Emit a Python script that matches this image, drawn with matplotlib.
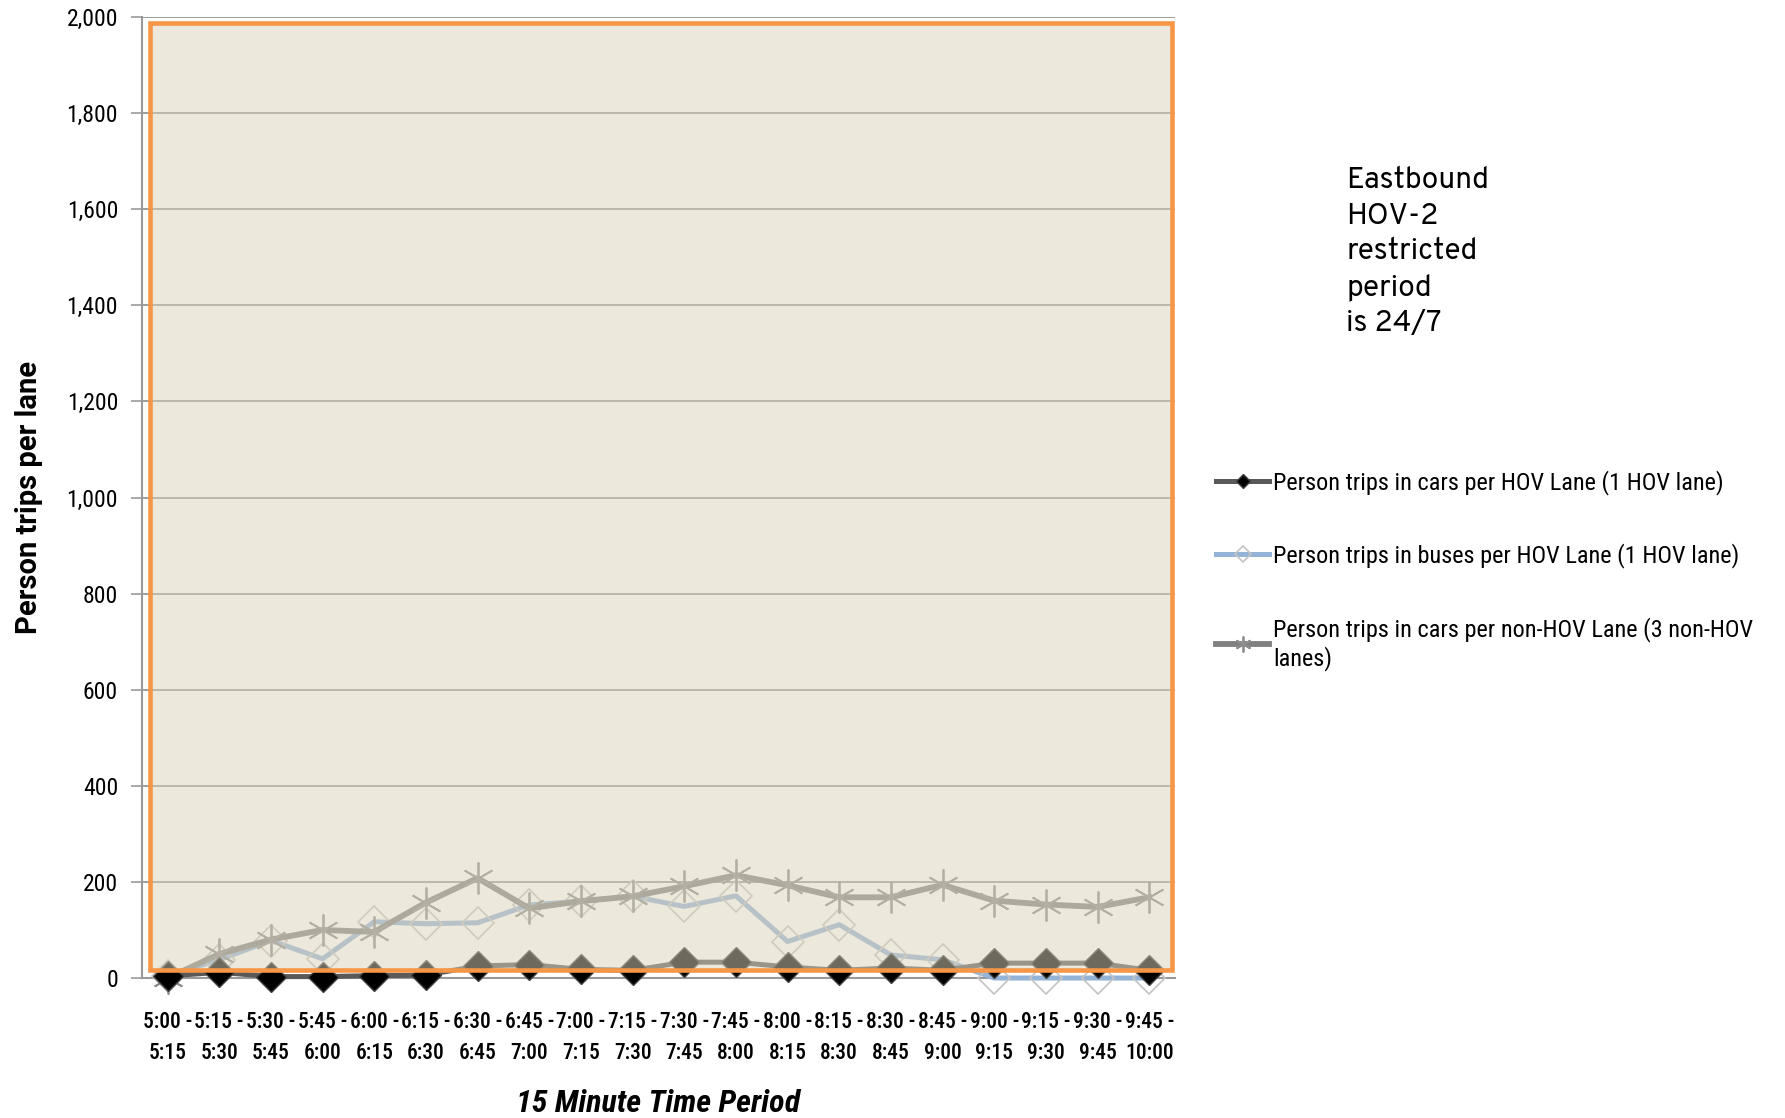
import matplotlib
matplotlib.use("Agg")
import matplotlib.pyplot as plt
from matplotlib import font_manager
from matplotlib.patches import Rectangle
import numpy as np

# 15 minute periods
starts = ["5:00", "5:15", "5:30", "5:45", "6:00", "6:15", "6:30", "6:45", "7:00", "7:15",
          "7:30", "7:45", "8:00", "8:15", "8:30", "8:45", "9:00", "9:15", "9:30", "9:45"]
ends = ["5:15", "5:30", "5:45", "6:00", "6:15", "6:30", "6:45", "7:00", "7:15", "7:30",
        "7:45", "8:00", "8:15", "8:30", "8:45", "9:00", "9:15", "9:30", "9:45", "10:00"]

# person trips per lane
cars_hov = [4, 12, 3, 3, 5, 6, 25, 28, 18, 16, 33, 33, 23, 16, 21, 16, 31, 31, 31, 16]
buses_hov = [5, 38, 78, 40, 117, 113, 115, 152, 160, 170, 149, 171, 76, 111, 48, 38, 0, 0, 0, 0]
cars_non_hov = [0, 50, 80, 100, 96, 157, 208, 145, 160, 170, 191, 214, 193, 168, 168, 194, 161, 153, 148, 168]

labels = ["Person trips in cars per HOV Lane (1 HOV lane)",
          "Person trips in buses per HOV Lane (1 HOV lane)",
          "Person trips in cars per non-HOV Lane (3 non-HOV\nlanes)"]


# pick a narrow family if one is there, else fall back
def pick(cands):
    have = {f.name for f in font_manager.fontManager.ttflist}
    for c in cands:
        if c in have:
            return [c, "DejaVu Sans"]
    return ["DejaVu Sans"]


narrow = pick(["Roboto Condensed", "Barlow Semi Condensed", "Liberation Sans Narrow",
               "Archivo Narrow", "PT Sans Narrow", "Liberation Sans"])
plain = pick(["Overpass", "DejaVu Sans"])
bold = pick(["Roboto", "Liberation Sans"])

fig = plt.figure(figsize=(17.85, 11.18), dpi=100)
ax = fig.add_axes([0.0794, 0.1252, 0.5789, 0.8596])

x = np.arange(len(starts))

l2, = ax.plot(x, buses_hov, color="#95B3D7", lw=3.6, marker="D", ms=16,
              mfc="none", mec="#C4C4C4", mew=1.2, clip_on=False, zorder=3, label=labels[1])
l3, = ax.plot(x, cars_non_hov, color="#808080", lw=4.2, marker=(6, 2, 0), ms=23,
              mec="#8C8C8C", mew=1.3, clip_on=False, zorder=4, label=labels[2])
l1, = ax.plot(x, cars_hov, color="#595959", lw=3.6, marker="D", ms=15,
              mfc="black", mec="#404040", mew=1, clip_on=False, zorder=5, label=labels[0])

# translucent beige box with orange border laid over the plot
box = Rectangle((-0.34, 17), 19.78, 1971, facecolor=(218/255, 210/255, 186/255, 0.5),
                edgecolor="#F79646", lw=3.3, zorder=6, clip_on=False)
ax.add_patch(box)

ax.set_xlim(-0.5, len(starts) - 0.5)
ax.set_ylim(0, 2000)
ax.set_yticks(np.arange(0, 2001, 200))
ax.set_yticklabels([f"{v:,}" for v in range(0, 2001, 200)], fontsize=17, family=narrow)
ax.set_xticks(x)
ax.set_xticklabels([f"{s} -\n{e}" for s, e in zip(starts, ends)], fontsize=15.5,
                   family=narrow, fontweight="medium", linespacing=1.5)
ax.tick_params(axis="x", length=0, pad=24)
ax.tick_params(axis="y", length=8, width=1.2, color="#999999", pad=9)

ax.grid(axis="y", color="#8C8C8C", lw=1.2, zorder=0)
ax.set_axisbelow(True)
for s in ["top", "right"]:
    ax.spines[s].set_visible(False)
for s in ["left", "bottom"]:
    ax.spines[s].set_color("#999999")
    ax.spines[s].set_linewidth(1.5)

ax.set_ylabel("Person trips per lane", fontsize=21, fontweight="bold", family=bold,
              va="center")
ax.yaxis.set_label_coords(-0.109, 0.5)
ax.set_xlabel("15 Minute Time Period", fontsize=23, fontweight="heavy", style="italic",
              family=narrow, va="center")
ax.xaxis.set_label_coords(0.5, -0.131)

fig.legend(handles=[l1, l2, l3], labels=labels, loc="upper left",
           bbox_to_anchor=(1216 / 1785, 1 - 470 / 1118), frameon=False,
           prop={"family": narrow, "size": 17.5}, handlelength=2.2, handletextpad=0.15,
           labelspacing=2.0, borderpad=0, borderaxespad=0, markerscale=0.5)

fig.text(1346 / 1785, 1 - 166 / 1118, "Eastbound\nHOV-2\nrestricted\nperiod\nis 24/7",
         fontsize=21.5, va="top", ha="left", linespacing=1.35, family=plain)

fig.savefig("out.png", dpi=100)
